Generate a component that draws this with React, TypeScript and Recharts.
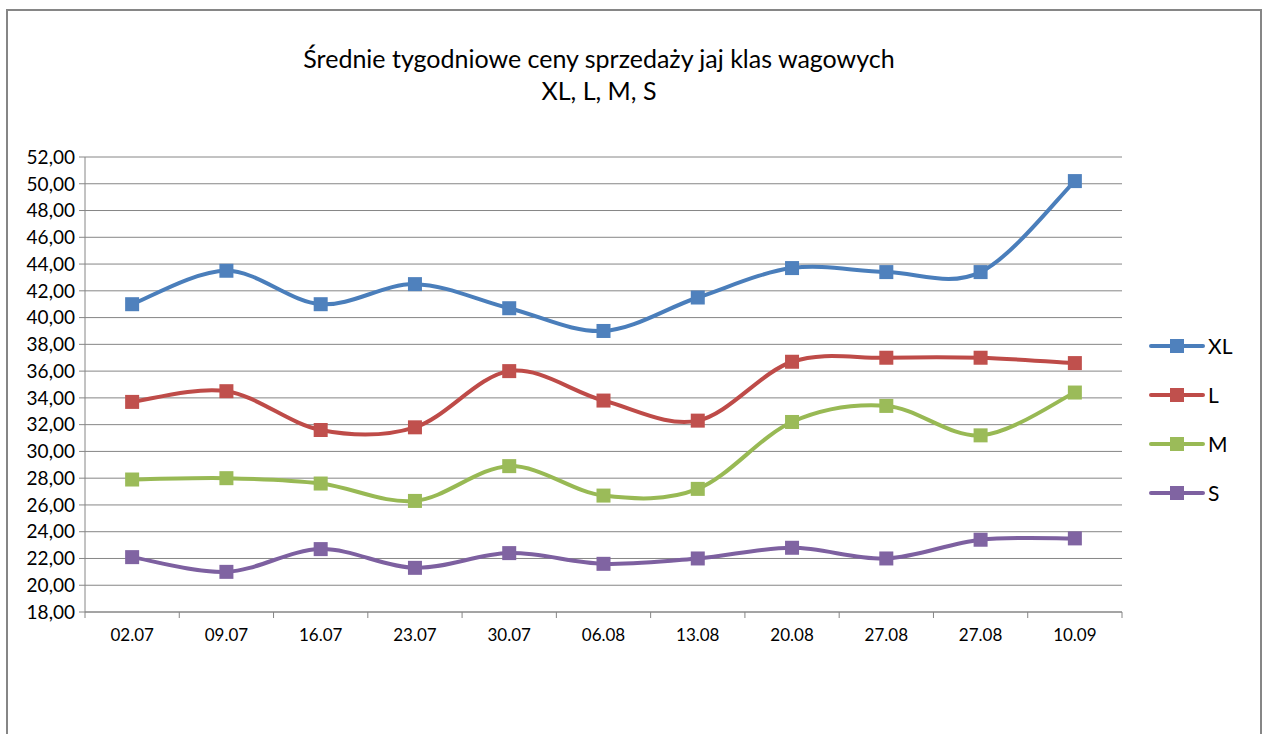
import React from 'react';
import { LineChart, Line, XAxis, YAxis, CartesianGrid } from 'recharts';

const dates = ['02.07', '09.07', '16.07', '23.07', '30.07', '06.08', '13.08', '20.08', '27.08', '27.08', '10.09'];
const xl = [41.0, 43.5, 41.0, 42.5, 40.7, 39.0, 41.5, 43.7, 43.4, 43.4, 50.2];
const l = [33.7, 34.5, 31.6, 31.8, 36.0, 33.8, 32.3, 36.7, 37.0, 37.0, 36.6];
const m = [27.9, 28.0, 27.6, 26.3, 28.9, 26.7, 27.2, 32.2, 33.4, 31.2, 34.4];
const s = [22.1, 21.0, 22.7, 21.3, 22.4, 21.6, 22.0, 22.8, 22.0, 23.4, 23.5];
const yTicks = [18, 20, 22, 24, 26, 28, 30, 32, 34, 36, 38, 40, 42, 44, 46, 48, 50, 52];

const series = [
  { key: 'XL', values: xl, line: '#4A7EBB', marker: '#4F81BD' },
  { key: 'L', values: l, line: '#BE4B48', marker: '#C0504D' },
  { key: 'M', values: m, line: '#98B954', marker: '#9BBB59' },
  { key: 'S', values: s, line: '#7D60A0', marker: '#8064A2' },
];

const data = dates.map((date, i) => ({ date, XL: xl[i], L: l[i], M: m[i], S: s[i] }));

const W = 1250;
const H = 730;
const margin = { top: 146, right: 136, left: 7, bottom: 99 };
const yAxisWidth = 70;
const plotW = W - margin.left - margin.right - yAxisWidth;
const band = plotW / dates.length;
const AXIS = '#868686';
const FONT = 'Lato, "Open Sans", sans-serif';

// Excel-like smoothing (Catmull-Rom style bezier)
function excelCurve(context: any) {
  let pts: number[][] = [];
  return {
    areaStart() {},
    areaEnd() {},
    lineStart() { pts = []; },
    point(x: number, y: number) { pts.push([+x, +y]); },
    lineEnd() {
      if (!pts.length) return;
      context.moveTo(pts[0][0], pts[0][1]);
      for (let i = 0; i < pts.length - 1; i++) {
        const p0 = pts[i - 1] || pts[i];
        const p1 = pts[i];
        const p2 = pts[i + 1];
        const p3 = pts[i + 2] || p2;
        context.bezierCurveTo(
          p1[0] + (p2[0] - p0[0]) / 6, p1[1] + (p2[1] - p0[1]) / 6,
          p2[0] - (p3[0] - p1[0]) / 6, p2[1] - (p3[1] - p1[1]) / 6,
          p2[0], p2[1]
        );
      }
    },
  };
}

const SquareDot = (color: string) => (props: any) => {
  const { cx, cy, index } = props;
  if (cx == null || cy == null) return null;
  return <rect key={index} x={cx - 7} y={cy - 7} width={14} height={14} fill={color} />;
};

const XTick = (props: any) => {
  const { x, y, payload, index } = props;
  const last = index === dates.length - 1;
  return (
    <g>
      <line x1={x - band / 2} y1={y} x2={x - band / 2} y2={y + 6} stroke={AXIS} />
      {last && <line x1={x + band / 2} y1={y} x2={x + band / 2} y2={y + 6} stroke={AXIS} />}
      <text x={x} y={y + 17} dy="0.71em" textAnchor="middle" fill="#000" fontSize={17} fontFamily={FONT}>
        {payload.value}
      </text>
    </g>
  );
};

export default function App() {
  return (
    <div style={{ position: 'absolute', left: 6, top: 9, width: 1252, height: H, border: `2px solid ${AXIS}`, borderTopWidth: 2, background: '#fff', fontFamily: FONT }}>
      <div style={{ position: 'absolute', left: 0, width: 1182, top: 31, textAlign: 'center', fontSize: 25, lineHeight: '32px', color: '#000' }}>
        <div>Średnie tygodniowe ceny sprzedaży jaj klas wagowych</div>
        <div>XL, L, M, S</div>
      </div>
      <LineChart width={W} height={H} data={data} margin={margin}>
        <CartesianGrid vertical={false} stroke={AXIS} strokeWidth={1} />
        <XAxis
          dataKey="date"
          allowDuplicatedCategory
          height={30}
          stroke={AXIS}
          tickLine={false}
          tickSize={0}
          tickMargin={0}
          interval={0}
          padding={{ left: band / 2, right: band / 2 }}
          tick={<XTick />}
        />
        <YAxis
          width={yAxisWidth}
          domain={[18, 52]}
          ticks={yTicks}
          interval={0}
          stroke={AXIS}
          tickSize={6}
          tickMargin={4}
          tick={{ fill: '#000', fontSize: 19, fontFamily: FONT }}
          tickFormatter={(v: number) => v.toFixed(2).replace('.', ',')}
        />
        {series.map((sr) => (
          <Line
            key={sr.key}
            dataKey={sr.key}
            type={excelCurve as any}
            stroke={sr.line}
            strokeWidth={4}
            dot={SquareDot(sr.marker)}
            activeDot={false}
            isAnimationActive={false}
          />
        ))}
      </LineChart>
      <div style={{ position: 'absolute', left: 1140, top: 310 }}>
        {series.map((sr) => (
          <div key={sr.key} style={{ display: 'flex', alignItems: 'center', height: 49 }}>
            <svg width={58} height={16}>
              <line x1={3} y1={8} x2={55} y2={8} stroke={sr.line} strokeWidth={4} strokeLinecap="round" />
              <rect x={22} y={1} width={14} height={14} fill={sr.marker} />
            </svg>
            <span style={{ fontSize: 21, marginLeft: 2, color: '#000' }}>{sr.key}</span>
          </div>
        ))}
      </div>
    </div>
  );
}
